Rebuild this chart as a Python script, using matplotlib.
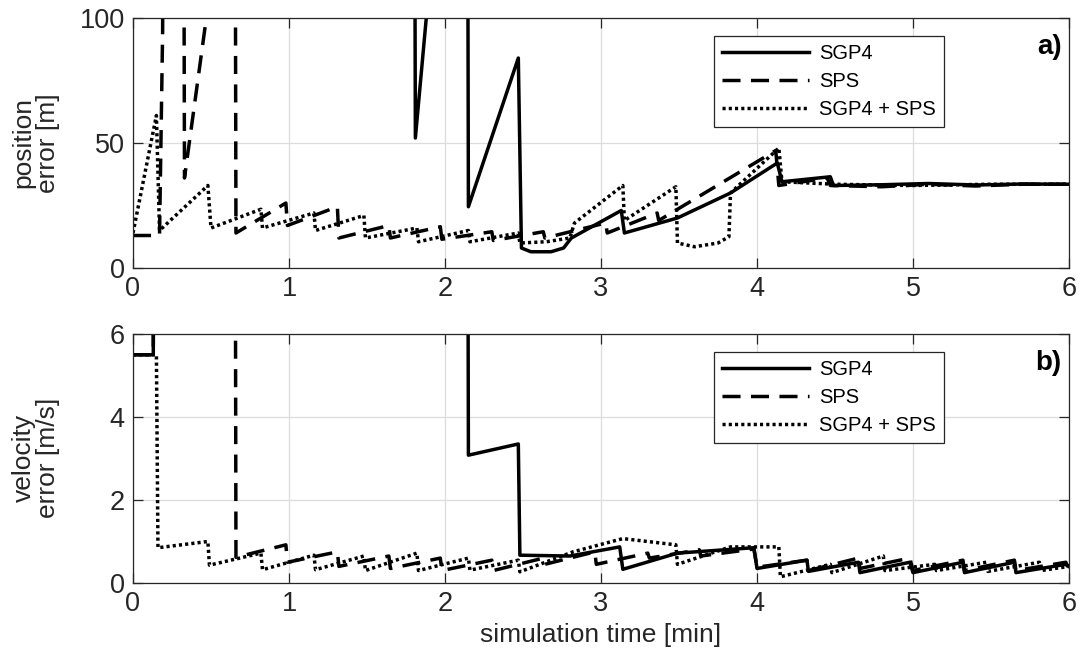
import matplotlib
matplotlib.use("Agg")
import matplotlib.pyplot as plt

plt.rcParams['font.family'] = ['Liberation Sans', 'DejaVu Sans']

# ---------------- data ----------------
# panel a) position error [m]; values above 100 are off-chart
pos_sgp4_t = [1.80, 1.81, 1.88, 1.95, 2.14, 2.15, 2.47, 2.49, 2.55, 2.68, 2.76, 2.81,
              3.13, 3.15, 3.49, 3.83, 4.13, 4.16, 4.47, 4.49, 4.8, 5.1, 5.4, 5.7, 6.0]
pos_sgp4_y = [300, 52, 100, 300, 300, 24.5, 84, 8, 6.5, 6.5, 8, 12,
              23, 14, 20, 30, 42, 34.5, 36.5, 33, 33.3, 33.8, 33.2, 33.6, 33.5]

pos_sps_t = [0, 0.17, 0.19, 0.20, 0.32, 0.33, 0.47, 0.50, 0.65, 0.66, 0.98, 0.99, 1.31, 1.32,
             1.64, 1.65, 1.97, 1.98, 2.30, 2.31, 2.63, 2.64, 3.03, 3.04, 3.36, 3.37, 4.12, 4.14,
             4.45, 4.47, 4.8, 5.1, 5.4, 5.7, 6.0]
pos_sps_y = [13, 13, 95, 300, 300, 36, 100, 300, 300, 14, 26, 17, 24.5, 12,
             17, 12, 16.5, 11.5, 14.5, 11, 14.5, 12, 18, 14, 22, 19, 47, 33,
             36, 33, 32.5, 33.5, 32.8, 33.5, 33.5]

pos_comb_t = [0, 0.15, 0.17, 0.48, 0.50, 0.82, 0.83, 1.16, 1.17, 1.48, 1.49, 1.82, 1.83, 2.15,
              2.16, 2.47, 2.48, 2.65, 2.80, 2.83, 3.14, 3.15, 3.48, 3.49, 3.60, 3.75, 3.82, 3.83,
              4.14, 4.16, 4.5, 5.0, 5.5, 6.0]
pos_comb_y = [14, 61, 15, 33, 16, 23.5, 16, 22, 15, 21, 12, 16, 10.5, 15,
              10.5, 14, 10, 10.5, 12, 18, 33, 19, 32.5, 10, 8.5, 10, 12.5, 30,
              48, 34.5, 33.5, 33, 33.5, 33.5]

# panel b) velocity error [m/s]; values above 6 are off-chart
vel_sgp4_t = [0, 0.13, 0.14, 2.14, 2.15, 2.47, 2.48, 2.80, 3.12, 3.14, 3.49, 3.98, 4.00,
              4.32, 4.33, 4.65, 4.66, 4.98, 5.00, 5.32, 5.33, 5.65, 5.66, 5.98, 6.0]
vel_sgp4_v = [5.5, 5.5, 20, 20, 3.08, 3.35, 0.67, 0.65, 0.87, 0.33, 0.72, 0.85, 0.35,
              0.55, 0.28, 0.5, 0.25, 0.5, 0.25, 0.5, 0.25, 0.5, 0.25, 0.45, 0.4]

vel_sps_t = [0, 0.13, 0.14, 0.65, 0.66, 0.98, 0.99, 1.31, 1.32, 1.64, 1.65, 1.97, 1.98, 2.30,
             2.31, 2.63, 2.64, 2.96, 2.97, 3.30, 3.31, 3.63, 3.64, 3.98, 4.00, 4.32, 4.33, 4.65,
             4.66, 4.98, 5.00, 5.32, 5.33, 5.65, 5.66, 5.98, 6.0]
vel_sps_v = [5.5, 5.5, 20, 20, 0.62, 0.92, 0.5, 0.75, 0.4, 0.65, 0.35, 0.6, 0.3, 0.55,
             0.3, 0.6, 0.45, 0.75, 0.45, 0.72, 0.6, 0.8, 0.65, 0.82, 0.38, 0.55, 0.3, 0.6,
             0.35, 0.6, 0.3, 0.55, 0.3, 0.55, 0.3, 0.5, 0.3]

vel_comb_t = [0, 0.15, 0.16, 0.48, 0.49, 0.82, 0.83, 1.16, 1.17, 1.48, 1.49, 1.82, 1.83, 2.15,
              2.16, 2.47, 2.48, 2.82, 3.14, 3.48, 3.49, 3.83, 4.14, 4.15, 4.47, 4.48, 4.81, 4.82,
              5.14, 5.15, 5.47, 5.48, 5.81, 5.82, 6.0]
vel_comb_v = [5.5, 5.5, 0.85, 1.0, 0.43, 0.72, 0.32, 0.67, 0.32, 0.65, 0.3, 0.72, 0.3, 0.6,
              0.31, 0.55, 0.27, 0.75, 1.07, 0.92, 0.45, 0.87, 0.87, 0.15, 0.45, 0.25, 0.65, 0.3,
              0.45, 0.3, 0.5, 0.28, 0.5, 0.3, 0.4]

series_labels = ["SGP4", "SPS", "SGP4 + SPS"]
x_ticks = [0, 1, 2, 3, 4, 5, 6]
pos_ticks = [0, 50, 100]
vel_ticks = [0, 2, 4, 6]

# ---------------- figure ----------------
W, H = 1081, 663
fig = plt.figure(figsize=(W / 100, H / 100), dpi=100)

def ax_rect(l, t, r, b):
    return [l / W, 1 - b / H, (r - l) / W, (b - t) / H]

ax1 = fig.add_axes(ax_rect(133, 18, 1069, 268))
ax2 = fig.add_axes(ax_rect(133, 334, 1069, 583))

txt_col = '#262626'
LW = 2.5
styles = [dict(color='black', lw=LW, ls='-'),
          dict(color='black', lw=LW, ls=(0, (5.2, 3.0))),
          dict(color='black', lw=LW, ls=(0, (0.9, 0.9)))]

def style_axes(ax, yticks, ylim):
    ax.set_xlim(0, 6)
    ax.set_ylim(*ylim)
    ax.set_xticks(x_ticks)
    ax.set_yticks(yticks)
    ax.grid(True, color='#dcdcdc', lw=0.9)
    ax.set_axisbelow(True)
    ax.tick_params(direction='in', top=True, right=True, length=7, width=0.9,
                   labelsize=19.5, colors=txt_col, pad=6)
    for s in ax.spines.values():
        s.set_color(txt_col)
        s.set_linewidth(0.9)

for ax, data, yt, yl, ylab, tag, ymid in [
        (ax1, [(pos_sgp4_t, pos_sgp4_y), (pos_sps_t, pos_sps_y), (pos_comb_t, pos_comb_y)],
         pos_ticks, (0, 100), "position\nerror [m]", "a)", 143),
        (ax2, [(vel_sgp4_t, vel_sgp4_v), (vel_sps_t, vel_sps_v), (vel_comb_t, vel_comb_v)],
         vel_ticks, (0, 6), "velocity\nerror [m/s]", "b)", 458)]:
    for (t, y), st, lab in zip(data, styles, series_labels):
        ax.plot(t, y, label=lab, **st)
    style_axes(ax, yt, yl)
    fig.text(36 / W, 1 - ymid / H, ylab, rotation=90, ha='center', va='center',
             fontsize=19, color=txt_col, linespacing=1.05)
    leg = ax.legend(loc='upper right', bbox_to_anchor=(0.866, 0.928), fontsize=14.5,
                    frameon=True, fancybox=False, edgecolor=txt_col, framealpha=1,
                    handlelength=4.3, borderpad=0.4, labelspacing=0.45,
                    handletextpad=0.5, borderaxespad=0)
    leg.get_frame().set_linewidth(0.9)
    ax.text(0.992, 0.885, tag, transform=ax.transAxes, ha='right', va='center',
            fontsize=20, fontweight='bold', color='black')

ax2.set_xlabel("simulation time [min]", fontsize=19, color=txt_col, labelpad=4)

fig.savefig("out.png", dpi=100)
